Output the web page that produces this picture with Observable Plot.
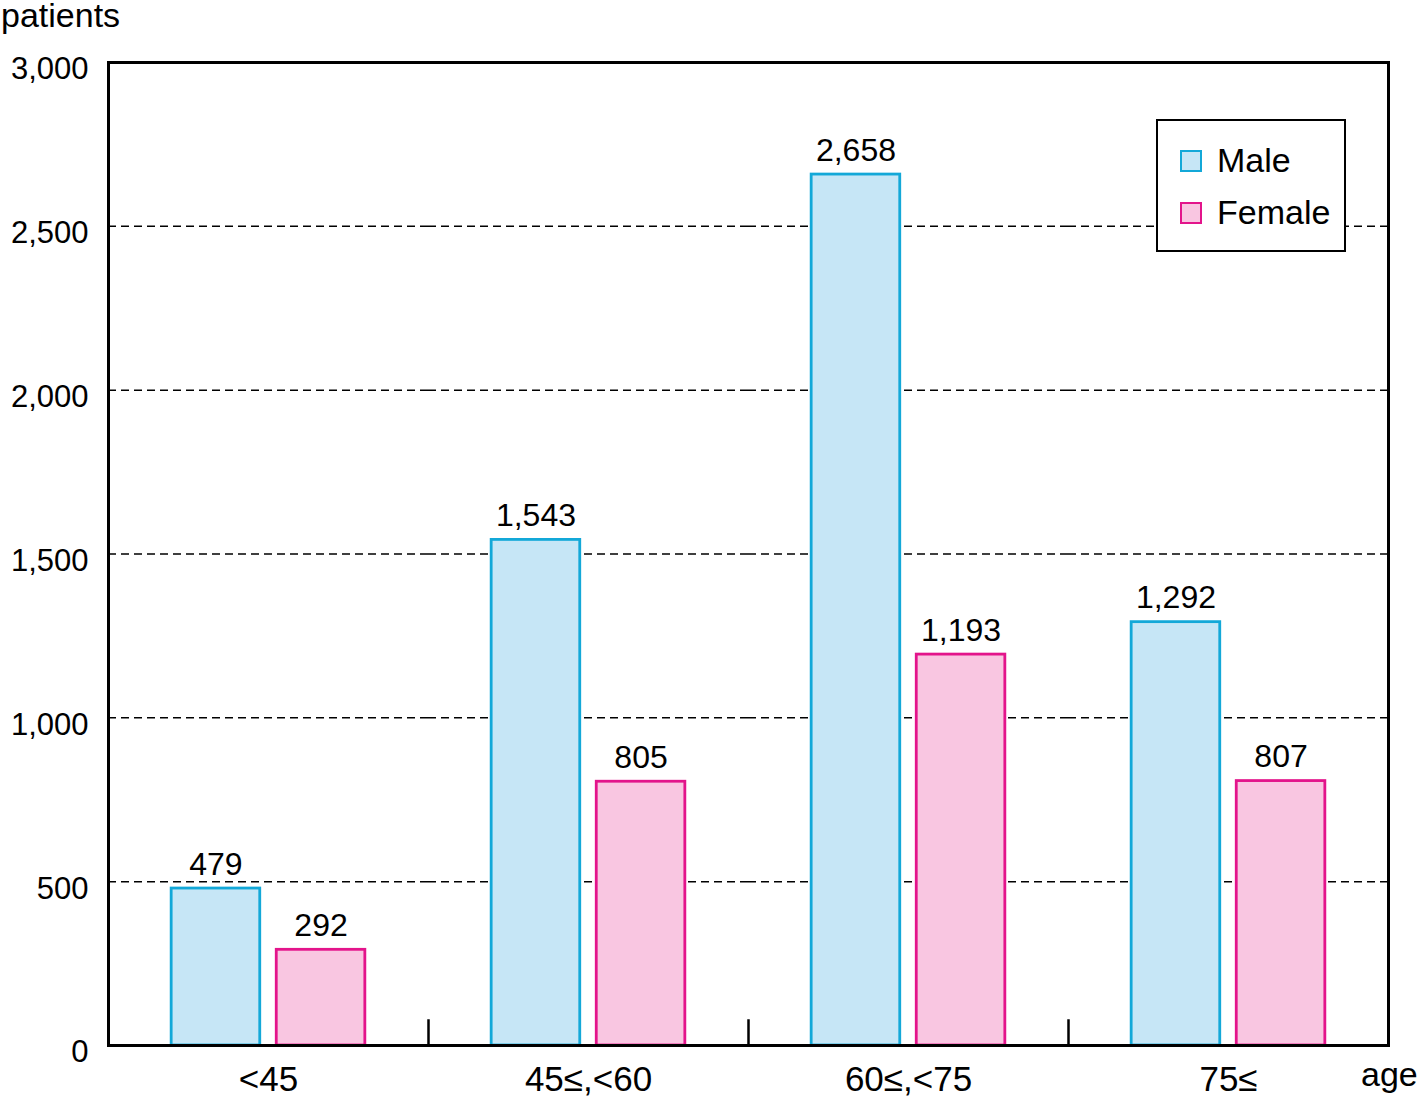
<!DOCTYPE html>
<html><head><meta charset="utf-8">
<script src="https://cdn.jsdelivr.net/npm/d3@7"></script>
<script src="https://cdn.jsdelivr.net/npm/@observablehq/plot@0.6"></script>
<style>
body{margin:0;background:#fff;font-family:"Liberation Sans",Arial,sans-serif;color:#000;}
#wrap{position:relative;width:1418px;height:1096px;overflow:hidden;}
#wrap svg{position:absolute;left:0;top:0;}
.lbl{position:absolute;font-size:34px;line-height:40px;white-space:nowrap;}
#legend{position:absolute;left:1156px;top:119px;width:186px;height:129px;border:2.5px solid #000;background:#fff;}
.item{position:absolute;left:22px;height:34px;line-height:34px;font-size:34px;}
.sw{position:absolute;left:0;top:7px;width:18px;height:18px;border:2.5px solid;}
.item span{position:absolute;left:37px;top:0;white-space:nowrap;}
</style></head>
<body><div id="wrap"></div>
<script>
const groups = ["<45", "45≤,<60", "60≤,<75", "75≤"];
const sexes = ["Male", "Female"];
const maleValues = [479, 1543, 2658, 1292];
const femaleValues = [292, 805, 1193, 807];
const yTicks = [0, 500, 1000, 1500, 2000, 2500, 3000];
const gridTicks = [500, 1000, 1500, 2000, 2500];
const fills = ["#c6e6f6", "#f9c6e1"];
const strokes = ["#13a8d8", "#e3148b"];

const data = groups.flatMap((g, i) => [
  {group: g, sex: "Male", value: maleValues[i]},
  {group: g, sex: "Female", value: femaleValues[i]}
]);
const fmt = d3.format(",");
const font = '"Liberation Sans", Arial, sans-serif';

const chart = Plot.plot({
  width: 1418, height: 1096,
  marginLeft: 108, marginRight: 30, marginTop: 62, marginBottom: 51,
  style: {fontFamily: font, background: "white", color: "black", overflow: "visible"},
  fx: {domain: groups, paddingInner: 0, paddingOuter: 0, axis: null, label: null},
  x: {domain: sexes, paddingInner: 0.157, paddingOuter: 0.601, round: false, axis: null, label: null},
  y: {domain: [0, 3000], axis: null, label: null},
  marks: [
    Plot.gridY(gridTicks, {stroke: "black", strokeOpacity: 1, strokeWidth: 1.5, strokeDasharray: "8,5"}),
    Plot.barY(data.filter(d => d.sex === "Male"), {fx: "group", x: "sex", y: "value", fill: fills[0], stroke: strokes[0], strokeWidth: 2.8}),
    Plot.barY(data.filter(d => d.sex === "Female"), {fx: "group", x: "sex", y: "value", fill: fills[1], stroke: strokes[1], strokeWidth: 2.8}),
    Plot.text(data, {fx: "group", x: "sex", y: "value", text: d => fmt(d.value), lineAnchor: "bottom", dy: -14, fontSize: 32, fill: "black"}),
    Plot.frame({anchor: "top", stroke: "black", strokeWidth: 3}),
    Plot.frame({anchor: "bottom", stroke: "black", strokeWidth: 3}),
    Plot.frame({anchor: "left", facetAnchor: "left", stroke: "black", strokeWidth: 3}),
    Plot.frame({anchor: "right", facetAnchor: "right", stroke: "black", strokeWidth: 3}),
    Plot.frame({anchor: "left", insetTop: 958, stroke: "black", strokeWidth: 2.5}),
    Plot.axisY(yTicks, {tickSize: 0, tickPadding: 20, fontSize: 31, dy: 7, tickFormat: fmt, label: null}),
    Plot.text(groups, {fx: d => d, text: d => d, frameAnchor: "bottom", dy: 45, fontSize: 35, fill: "black"})
  ]
});

const wrap = document.getElementById("wrap");
wrap.appendChild(chart);

const yl = document.createElement("div");
yl.className = "lbl"; yl.textContent = "patients";
yl.style.left = "1px"; yl.style.top = "-5px";
wrap.appendChild(yl);

const xl = document.createElement("div");
xl.className = "lbl"; xl.textContent = "age";
xl.style.left = "1361px"; xl.style.top = "1054px";
wrap.appendChild(xl);

const legend = document.createElement("div");
legend.id = "legend";
sexes.forEach((s, i) => {
  const it = document.createElement("div");
  it.className = "item";
  it.style.top = (22 + i * 52) + "px";
  const sw = document.createElement("div");
  sw.className = "sw";
  sw.style.background = fills[i];
  sw.style.borderColor = strokes[i];
  const t = document.createElement("span");
  t.textContent = s;
  it.appendChild(sw); it.appendChild(t);
  legend.appendChild(it);
});
wrap.appendChild(legend);
</script>
</body></html>
